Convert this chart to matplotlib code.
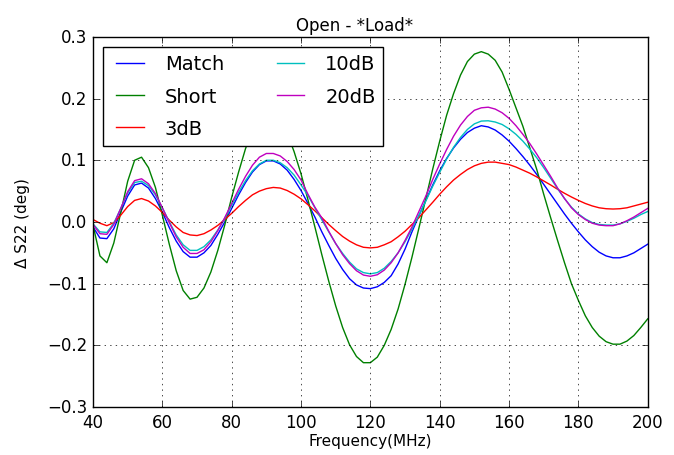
import numpy as np
import matplotlib
matplotlib.use("Agg")
import matplotlib.pyplot as plt

plt.style.use("classic")

freq = np.arange(40, 201, 2)

match = [-0.008, -0.026, -0.027, -0.011, 0.016, 0.042, 0.060, 0.063, 0.055, 0.038,
         0.016, -0.009, -0.031, -0.048, -0.057, -0.057, -0.050, -0.038, -0.020, 0.000,
         0.022, 0.044, 0.064, 0.081, 0.093, 0.099, 0.099, 0.094, 0.084, 0.069,
         0.051, 0.030, 0.008, -0.016, -0.038, -0.059, -0.077, -0.092, -0.102, -0.107,
         -0.108, -0.105, -0.098, -0.087, -0.068, -0.044, -0.016, 0.010, 0.035, 0.060,
         0.083, 0.103, 0.120, 0.134, 0.145, 0.152, 0.156, 0.154, 0.149, 0.141,
         0.131, 0.119, 0.106, 0.092, 0.077, 0.061, 0.045, 0.029, 0.013, -0.002,
         -0.016, -0.029, -0.040, -0.049, -0.055, -0.058, -0.058, -0.055, -0.050, -0.043,
         -0.036]

short = [-0.005, -0.055, -0.066, -0.034, 0.015, 0.066, 0.100, 0.105, 0.088, 0.056,
         0.011, -0.036, -0.079, -0.111, -0.125, -0.122, -0.107, -0.081, -0.046, -0.005,
         0.040, 0.081, 0.119, 0.149, 0.171, 0.180, 0.177, 0.165, 0.144, 0.114,
         0.078, 0.036, -0.008, -0.053, -0.096, -0.136, -0.171, -0.199, -0.218, -0.228,
         -0.228, -0.219, -0.200, -0.174, -0.141, -0.101, -0.057, -0.010, 0.038, 0.086,
         0.131, 0.173, 0.208, 0.238, 0.260, 0.272, 0.276, 0.272, 0.262, 0.243,
         0.215, 0.185, 0.155, 0.120, 0.085, 0.045, 0.007, -0.030, -0.066, -0.100,
         -0.127, -0.152, -0.171, -0.185, -0.194, -0.198, -0.198, -0.193, -0.184, -0.171,
         -0.157]

db3 = [0.004, -0.002, -0.006, -0.001, 0.011, 0.025, 0.035, 0.038, 0.034, 0.026,
       0.0155, 0.003, -0.008, -0.017, -0.021, -0.022, -0.019, -0.013, -0.0055, 0.004,
       0.014, 0.025, 0.035, 0.044, 0.050, 0.054, 0.056, 0.055, 0.051, 0.045,
       0.0375, 0.028, 0.018, 0.007, -0.004, -0.014, -0.0235, -0.031, -0.037, -0.041,
       -0.042, -0.041, -0.037, -0.032, -0.024, -0.015, -0.004, 0.007, 0.0195, 0.032,
       0.045, 0.057, 0.068, 0.077, 0.085, 0.091, 0.095, 0.097, 0.097, 0.095,
       0.093, 0.089, 0.084, 0.079, 0.073, 0.0665, 0.060, 0.053, 0.0465, 0.0405,
       0.035, 0.030, 0.026, 0.023, 0.0215, 0.021, 0.0215, 0.023, 0.026, 0.029,
       0.032]

db10 = [-0.003, -0.016, -0.017, -0.002, 0.022, 0.047, 0.064, 0.066, 0.059, 0.044,
        0.023, 0.0004, -0.021, -0.037, -0.046, -0.046, -0.040, -0.029, -0.013, 0.006,
        0.027, 0.048, 0.067, 0.083, 0.094, 0.100, 0.100, 0.096, 0.088, 0.076,
        0.060, 0.043, 0.023, 0.0035, -0.016, -0.035, -0.051, -0.065, -0.076, -0.082,
        -0.084, -0.082, -0.075, -0.064, -0.050, -0.032, -0.0115, 0.011, 0.034, 0.058,
        0.0805, 0.102, 0.121, 0.137, 0.150, 0.159, 0.1635, 0.164, 0.162, 0.158,
        0.151, 0.142, 0.131, 0.118, 0.104, 0.088, 0.071, 0.054, 0.038, 0.024,
        0.013, 0.005, -0.001, -0.004, -0.005, -0.005, -0.003, 0.001, 0.006, 0.012,
        0.017]

db20 = [-0.004, -0.019, -0.020, -0.004, 0.022, 0.049, 0.067, 0.070, 0.062, 0.046,
        0.023, -0.001, -0.024, -0.041, -0.051, -0.051, -0.045, -0.032, -0.014, 0.007,
        0.030, 0.053, 0.074, 0.092, 0.105, 0.111, 0.111, 0.107, 0.098, 0.085,
        0.068, 0.045, 0.024, 0.0066, -0.015, -0.035, -0.053, -0.0675, -0.079, -0.086,
        -0.088, -0.0855, -0.078, -0.066, -0.050, -0.030, -0.008, 0.017, 0.042, 0.069,
        0.094, 0.1175, 0.139, 0.157, 0.171, 0.181, 0.185, 0.186, 0.183, 0.177,
        0.168, 0.156, 0.142, 0.127, 0.110, 0.092, 0.074, 0.055, 0.038, 0.023,
        0.012, 0.004, -0.002, -0.005, -0.006, -0.006, -0.003, 0.002, 0.008, 0.015,
        0.022]

series = [("Match", match, "b"), ("Short", short, "g"), ("3dB", db3, "r"),
          ("10dB", db10, "c"), ("20dB", db20, "m")]

fig = plt.figure(figsize=(6.74, 4.56), dpi=100, facecolor="white")
ax = fig.add_axes([0.138, 0.105, 0.823, 0.812])
for name, vals, col in series:
    ax.plot(freq, vals, color=col, lw=1.0, label=name)

ax.set_xlim(40, 200)
ax.set_ylim(-0.3, 0.3)
ax.set_xticks(np.arange(40, 201, 20))
ax.set_yticks(np.arange(-0.3, 0.31, 0.1))
ax.grid(True)
ax.set_title("Open - *Load*", fontsize=12, x=0.472)
ax.set_xlabel("Frequency(MHz)", fontsize=11)
ax.set_ylabel("Δ S22 (deg)", fontsize=11)
ax.xaxis.set_label_coords(0.5, -0.07)
ax.yaxis.set_label_coords(-0.113, 0.5)
ax.legend(loc="upper left", ncol=2, fontsize=14, labelspacing=0.68,
          columnspacing=2.4)
fig.savefig("out.png", dpi=100, facecolor="white")
